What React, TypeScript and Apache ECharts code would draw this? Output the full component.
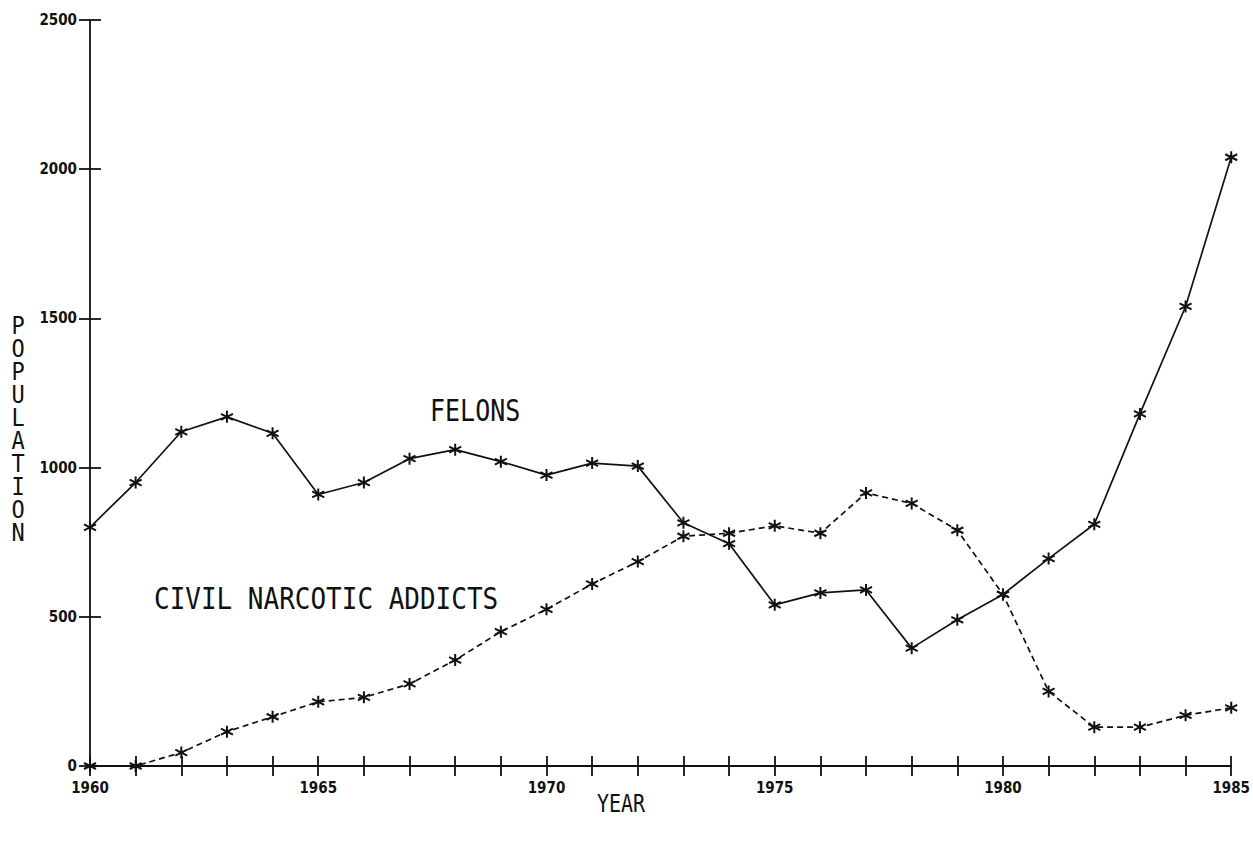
import React, { useEffect, useRef } from "react";
import * as echarts from "echarts";

const years = [
  1960, 1961, 1962, 1963, 1964, 1965, 1966, 1967, 1968, 1969, 1970, 1971, 1972,
  1973, 1974, 1975, 1976, 1977, 1978, 1979, 1980, 1981, 1982, 1983, 1984, 1985,
];
const felons = [
  800, 950, 1120, 1170, 1115, 910, 950, 1030, 1060, 1020, 975, 1015, 1005,
  815, 745, 540, 580, 590, 395, 490, 575, 695, 810, 1180, 1540, 2040,
];
const addicts = [
  0, 0, 45, 115, 165, 215, 230, 275, 355, 450, 525, 610, 685,
  770, 780, 805, 780, 915, 880, 790, 575, 250, 130, 130, 170, 195,
];
const yTicks = [0, 500, 1000, 1500, 2000, 2500];
const xLabelStep = 5;

const FONT = "'DejaVu Sans Condensed', 'DejaVu Sans', sans-serif";
const MONO = "'DejaVu Sans Mono', monospace";
const STAR = "path://M5 0 L5 10 M0.7 2.5 L9.3 7.5 M9.3 2.5 L0.7 7.5";

export default function App() {
  const ref = useRef<HTMLDivElement>(null);
  useEffect(() => {
    if (!ref.current) return;
    const chart = echarts.init(ref.current, null, { renderer: "svg" });
    const axisLine = { lineStyle: { color: "#111", width: 1.8 } };
    const tick = { lineStyle: { color: "#111", width: 1.8 } };
    const seriesBase = {
      type: "line" as const,
      symbol: STAR,
      symbolSize: 12,
      itemStyle: { color: "none", borderColor: "#111", borderWidth: 2 },
      emphasis: { disabled: true },
    };
    chart.setOption({
      animation: false,
      backgroundColor: "#fff",
      grid: { left: 90, right: 21, top: 20, bottom: 80, containLabel: false },
      xAxis: [
        {
          type: "value",
          min: years[0],
          max: years[years.length - 1],
          interval: 1,
          axisLine,
          axisTick: { show: true, length: 10, ...tick },
          splitLine: { show: false },
          axisLabel: {
            margin: 14,
            fontFamily: FONT,
            fontSize: 15,
            fontWeight: "bold",
            color: "#111",
            formatter: (v: number) => (v % xLabelStep === 0 ? String(v) : ""),
          },
        },
        {
          type: "value",
          position: "bottom",
          min: years[0],
          max: years[years.length - 1],
          interval: 1,
          axisLine: { show: false },
          axisTick: { show: true, inside: true, length: 10, ...tick },
          axisLabel: { show: false },
          splitLine: { show: false },
        },
      ],
      yAxis: [
        {
          type: "value",
          min: 0,
          max: 2500,
          interval: 500,
          axisLine: { show: true, ...axisLine },
          axisTick: { show: true, length: 11, ...tick },
          splitLine: { show: false },
          axisLabel: {
            margin: 13,
            fontFamily: FONT,
            fontSize: 15,
            fontWeight: "bold",
            color: "#111",
            formatter: (v: number) => (yTicks.includes(v) ? String(v) : ""),
          },
        },
        {
          type: "value",
          position: "left",
          min: 0,
          max: 2500,
          interval: 500,
          axisLine: { show: false },
          axisTick: { show: true, inside: true, length: 11, ...tick },
          axisLabel: { show: false },
          splitLine: { show: false },
        },
      ],
      series: [
        {
          ...seriesBase,
          name: "FELONS",
          data: years.map((y, i) => [y, felons[i]]),
          lineStyle: { color: "#111", width: 1.7, type: "solid" },
        },
        {
          ...seriesBase,
          name: "CIVIL NARCOTIC ADDICTS",
          data: years.map((y, i) => [y, addicts[i]]),
          lineStyle: { color: "#111", width: 1.7, type: [6, 4] },
        },
      ],
      graphic: [
        {
          type: "text",
          x: 18,
          y: 314,
          scaleY: 1.15,
          style: {
            text: "POPULATION".split("").join("\n"),
            font: `22px ${MONO}`,
            lineHeight: 20,
            fill: "#111",
            align: "center",
            verticalAlign: "top",
          },
        },
        {
          type: "text",
          x: 597,
          y: 803,
          scaleY: 1.2,
          style: { text: "YEAR", font: `20px ${MONO}`, fill: "#111", verticalAlign: "middle" },
        },
        {
          type: "text",
          x: 430,
          y: 411,
          scaleY: 1.2,
          style: { text: "FELONS", font: `25px ${MONO}`, fill: "#111", verticalAlign: "middle" },
        },
        {
          type: "text",
          x: 154,
          y: 599,
          scaleY: 1.18,
          style: {
            text: "CIVIL NARCOTIC ADDICTS",
            font: `26px ${MONO}`,
            fill: "#111",
            verticalAlign: "middle",
          },
        },
      ],
    });
    return () => chart.dispose();
  }, []);
  return (
    <div
      ref={ref}
      style={{ position: "fixed", left: 0, top: 0, width: 1253, height: 846, background: "#fff" }}
    />
  );
}
